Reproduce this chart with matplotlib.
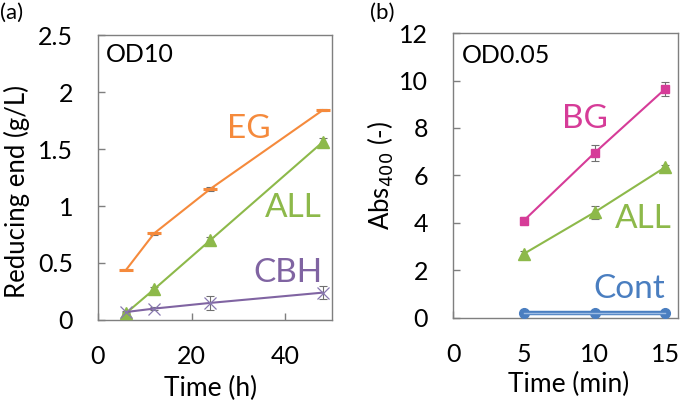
import matplotlib
matplotlib.use("Agg")
import matplotlib.pyplot as plt

plt.rcParams['font.family'] = ['Lato', 'DejaVu Sans']

# Panel (a)
t_a = [6, 12, 24, 48]
eg = [0.44, 0.76, 1.15, 1.84]
eg_err = [0.005, 0.01, 0.015, 0.01]
all_a = [0.06, 0.27, 0.70, 1.56]
all_a_err = [0.01, 0.02, 0.03, 0.04]
cbh = [0.07, 0.10, 0.15, 0.24]
cbh_err = [0.01, 0.01, 0.06, 0.06]

# Panel (b)
t_b = [5, 10, 15]
bg = [4.1, 6.95, 9.65]
bg_err = [0.15, 0.35, 0.3]
all_b = [2.7, 4.45, 6.35]
all_b_err = [0.1, 0.28, 0.1]
cont = [0.2, 0.2, 0.2]
cont_err = [0.02, 0.02, 0.02]

C_EG = '#F58A3C'
C_ALL = '#8DB94A'
C_CBH = '#8064A2'
C_BG = '#D63C98'
C_CONT = '#4A7EC0'
ERR = '#707070'

fig = plt.figure(figsize=(6.8, 4.01), dpi=100)
axa = fig.add_axes([0.1441, 0.2020, 0.3441, 0.7107])
axb = fig.add_axes([0.6662, 0.2070, 0.3309, 0.7107])

def errs(ax, x, y, e):
    ax.errorbar(x, y, yerr=e, fmt='none', ecolor=ERR, elinewidth=0.8, capsize=3, capthick=0.8, zorder=2)

# (a)
errs(axa, t_a, eg, eg_err)
axa.plot(t_a, eg, color=C_EG, lw=1.5, marker='_', ms=10, mew=2.2, zorder=3)
errs(axa, t_a, all_a, all_a_err)
axa.plot(t_a, all_a, color=C_ALL, lw=1.5, marker='^', ms=8, zorder=3)
errs(axa, t_a, cbh, cbh_err)
axa.plot(t_a, cbh, color=C_CBH, lw=1.5, zorder=3)
axa.plot(t_a, cbh, ls='none', marker='x', ms=8, mew=0.9, color='#8878B0', zorder=4)
axa.set_xlim(0, 50)
axa.set_ylim(0, 2.5)
axa.set_xticks([0, 20, 40])
axa.set_yticks([0, 0.5, 1, 1.5, 2, 2.5])
axa.set_yticklabels(['0', '0.5', '1', '1.5', '2', '2.5'])
axa.set_xlabel('Time (h)', fontsize=19, va='top')
axa.set_ylabel('Reducing end (g/L)', fontsize=18.5)
axa.xaxis.set_label_coords(0.479, -0.195)
axa.yaxis.set_label_coords(-0.29, 0.45)
axa.text(0.034, 0.905, 'OD10', transform=axa.transAxes, fontsize=18, va='baseline', ha='left')
axa.text(32.3, 1.60, 'EG', color=C_EG, fontsize=24, ha='center', va='baseline')
axa.text(41.7, 0.90, 'ALL', color=C_ALL, fontsize=24, ha='center', va='baseline')
axa.text(40.6, 0.333, 'CBH', color=C_CBH, fontsize=24, ha='center', va='baseline')

# (b)
errs(axb, t_b, bg, bg_err)
axb.plot(t_b, bg, color=C_BG, lw=1.5, marker='s', ms=6, zorder=3)
errs(axb, t_b, all_b, all_b_err)
axb.plot(t_b, all_b, color=C_ALL, lw=1.5, marker='^', ms=8, zorder=3)
errs(axb, t_b, cont, cont_err)
axb.plot(t_b, cont, color=C_CONT, lw=3.2, marker='o', ms=7, zorder=3)
axb.plot(t_b, cont, color='#9DBCE4', lw=1.0, zorder=4)
axb.set_xlim(0, 15.9)
axb.set_ylim(0, 12)
axb.set_xticks([0, 5, 10, 15])
axb.set_yticks([0, 2, 4, 6, 8, 10, 12])
axb.set_xlabel('Time (min)', fontsize=19, va='top')
axb.set_ylabel('Abs$_{400}$ (-)', fontsize=18.5)
axb.xaxis.set_label_coords(0.516, -0.19)
axb.yaxis.set_label_coords(-0.253, 0.50)
axb.text(0.04, 0.895, 'OD0.05', transform=axb.transAxes, fontsize=18, va='baseline', ha='left')
axb.text(9.3, 8.0, 'BG', color=C_BG, fontsize=24, ha='center', va='baseline')
axb.text(13.45, 3.79, 'ALL', color=C_ALL, fontsize=24, ha='center', va='baseline')
axb.text(12.46, 0.84, 'Cont', color=C_CONT, fontsize=24, ha='center', va='baseline')

for ax in (axa, axb):
    for s in ax.spines.values():
        s.set_color('#7F7F7F')
        s.set_linewidth(1.0)
    ax.tick_params(direction='in', length=5, width=1, color='#7F7F7F', labelsize=18)
    ax.tick_params(axis='x', pad=18)
    ax.tick_params(axis='y', pad=18)

fig.text(0.0, 0.967, '(a)', fontsize=16, ha='left', va='center')
fig.text(0.544, 0.967, '(b)', fontsize=16, ha='left', va='center')

fig.savefig('out.png', dpi=100)
